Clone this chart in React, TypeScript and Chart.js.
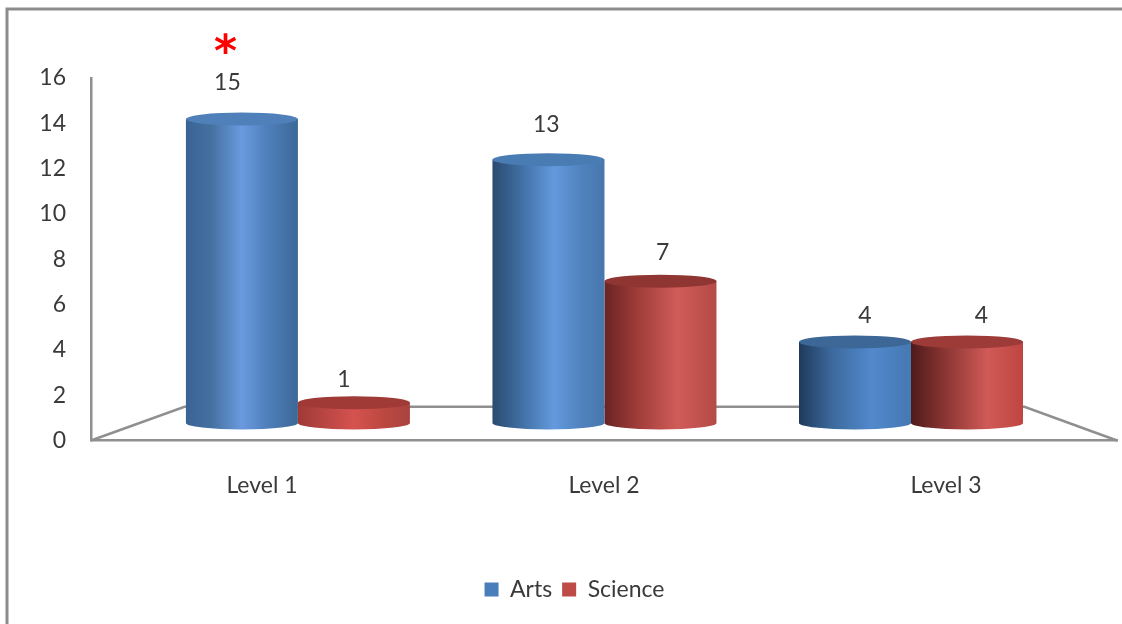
import React, { useEffect, useRef } from "react";
import { Chart, registerables } from "chart.js";

Chart.register(...registerables);

const levels = ["Level 1", "Level 2", "Level 3"];
const artsValues = [15, 13, 4];
const scienceValues = [1, 7, 4];
const yTickMax = 16;
const FONT = "Lato, 'Open Sans', sans-serif";
const FONT_SIZE = 23;
const INK = "#3a3a3a";
const AXIS = "#8f8f8f";

// Horizontal shading of each cylinder wall, one list of stops per level.
const artsWalls = [
  [[0, "#3a6394"], [0.22, "#44709f"], [0.5, "#6a9ade"], [0.72, "#4f80bc"], [1, "#3d6897"]],
  [[0, "#2a4a70"], [0.25, "#3f6ea2"], [0.55, "#639ade"], [0.8, "#4f82bd"], [1, "#4877ad"]],
  [[0, "#1f3a5c"], [0.3, "#3d6a9e"], [0.65, "#5189cc"], [1, "#4678b2"]],
];
const scienceWalls = [
  [[0, "#9e3a36"], [0.5, "#d5524f"], [0.8, "#b9473f"], [1, "#a84340"]],
  [[0, "#692423"], [0.3, "#a03d3a"], [0.65, "#d05c58"], [1, "#b44a46"]],
  [[0, "#4f1a1a"], [0.3, "#8a3533"], [0.68, "#cf5a56"], [1, "#bf4542"]],
];
const artsTops = ["#4f80ba", "#4a7cb4", "#3c6796"];
const scienceTops = ["#a03a37", "#8f3532", "#9c3b38"];

const ELLIPSE_RY = 6.5;
const LABEL_SPREAD = 1.04;

const cylinders = {
  id: "cylinders",
  beforeDatasetsDraw(chart: any) {
    // Floor of the 3D plot, placed through the bar scales.
    const { ctx, chartArea, scales } = chart;
    const rearY = scales.yBars.getPixelForValue(0.8);
    const rearL = scales.xBars.getPixelForValue(-0.37);
    const rearR = scales.xBars.getPixelForValue(2.37);
    ctx.save();
    ctx.strokeStyle = AXIS;
    ctx.lineWidth = 2.5;
    ctx.beginPath();
    ctx.moveTo(chartArea.left, chartArea.bottom);
    ctx.lineTo(rearL, rearY);
    ctx.lineTo(rearR, rearY);
    ctx.lineTo(chartArea.right, chartArea.bottom);
    ctx.stroke();
    ctx.restore();
  },
  beforeDatasetDraw(chart: any, args: any) {
    const { ctx } = chart;
    const walls = args.index === 0 ? artsWalls : scienceWalls;
    const tops = args.index === 0 ? artsTops : scienceTops;
    args.meta.data.forEach((bar: any, i: number) => {
      const w = bar.width / 2;
      const left = bar.x - w;
      const right = bar.x + w;
      const g = ctx.createLinearGradient(left, 0, right, 0);
      walls[i].forEach((s: any) => g.addColorStop(s[0], s[1]));
      ctx.save();
      ctx.fillStyle = g;
      ctx.beginPath();
      ctx.moveTo(left, bar.y);
      ctx.lineTo(left, bar.base);
      ctx.ellipse(bar.x, bar.base, w, ELLIPSE_RY, 0, Math.PI, 0, true);
      ctx.lineTo(right, bar.y);
      ctx.closePath();
      ctx.fill();
      ctx.fillStyle = tops[i];
      ctx.beginPath();
      ctx.ellipse(bar.x, bar.y, w, ELLIPSE_RY, 0, 0, Math.PI * 2);
      ctx.fill();
      ctx.restore();
    });
    return false;
  },
  afterDraw(chart: any) {
    const { ctx, scales } = chart;
    const mid = scales.xBars.getPixelForValue(1);
    ctx.save();
    ctx.textAlign = "center";
    ctx.textBaseline = "middle";
    chart.data.datasets.forEach((ds: any, d: number) => {
      chart.getDatasetMeta(d).data.forEach((bar: any, i: number) => {
        const value = ds.data[i].y;
        const x = mid + (bar.x - mid) * LABEL_SPREAD;
        // Labels float higher the taller the column is.
        const y = bar.y - 22 - value;
        ctx.font = `${FONT_SIZE}px ${FONT}`;
        ctx.fillStyle = INK;
        ctx.fillText(String(value), x, y);
        // Significance marker over the tallest Arts column.
        if (d === 0 && i === 0) {
          ctx.font = `bold 44px 'DejaVu Sans', sans-serif`;
          ctx.fillStyle = "#ff0000";
          ctx.fillText("*", x - 2, y - 28);
        }
      });
    });
    // Outer frame: only the top and left edges are ruled.
    ctx.strokeStyle = "#8c8c8c";
    ctx.lineWidth = 3;
    ctx.beginPath();
    ctx.moveTo(7, chart.height);
    ctx.lineTo(7, 9);
    ctx.lineTo(chart.width, 9);
    ctx.stroke();
    ctx.restore();
  },
};

export default function App() {
  const ref = useRef<HTMLCanvasElement>(null);
  useEffect(() => {
    const chart = new Chart(ref.current!, {
      type: "bar",
      data: {
        labels: levels,
        datasets: [
          {
            label: "Arts",
            data: artsValues.map((y, x) => ({ x, y })),
            backgroundColor: "#4a7ebb",
            xAxisID: "xBars",
            yAxisID: "yBars",
          },
          {
            label: "Science",
            data: scienceValues.map((y, x) => ({ x, y })),
            backgroundColor: "#be4b48",
            xAxisID: "xBars",
            yAxisID: "yBars",
          },
        ],
      } as any,
      options: {
        animation: false,
        responsive: false,
        layout: { padding: { left: 32, right: 5, top: 78, bottom: 13 } },
        datasets: { bar: { barThickness: 112 } } as any,
        plugins: {
          tooltip: { enabled: false },
          legend: {
            position: "bottom",
            labels: {
              font: { family: FONT, size: FONT_SIZE },
              color: INK,
              boxWidth: 14,
              boxHeight: 14,
              padding: 10,
            },
          },
        },
        scales: {
          x: {
            type: "category",
            offset: true,
            grid: { display: false, drawTicks: false },
            border: { color: AXIS, width: 2.5 },
            ticks: { color: INK, font: { family: FONT, size: FONT_SIZE }, padding: 31, maxRotation: 0 },
            afterFit(s: any) { s.height = 127.5; },
          },
          y: {
            type: "linear",
            min: 0,
            max: yTickMax,
            grid: { display: false, drawTicks: false },
            border: { color: AXIS, width: 2.5 },
            ticks: { stepSize: 2, color: INK, font: { family: FONT, size: FONT_SIZE }, padding: 25 },
            afterFit(s: any) { s.width = 59; },
          },
          // Receding plot plane that the cylinders stand on.
          xBars: { type: "linear", axis: "x", display: false, offset: false, min: -0.675, max: 2.672 },
          yBars: { type: "linear", axis: "y", display: false, min: -0.866, max: 17.03 },
        },
      } as any,
      plugins: [cylinders],
    });
    return () => chart.destroy();
  }, []);
  return (
    <canvas
      ref={ref}
      width={1122}
      height={624}
      style={{ position: "absolute", left: 0, top: 0, width: 1122, height: 624 }}
    />
  );
}
